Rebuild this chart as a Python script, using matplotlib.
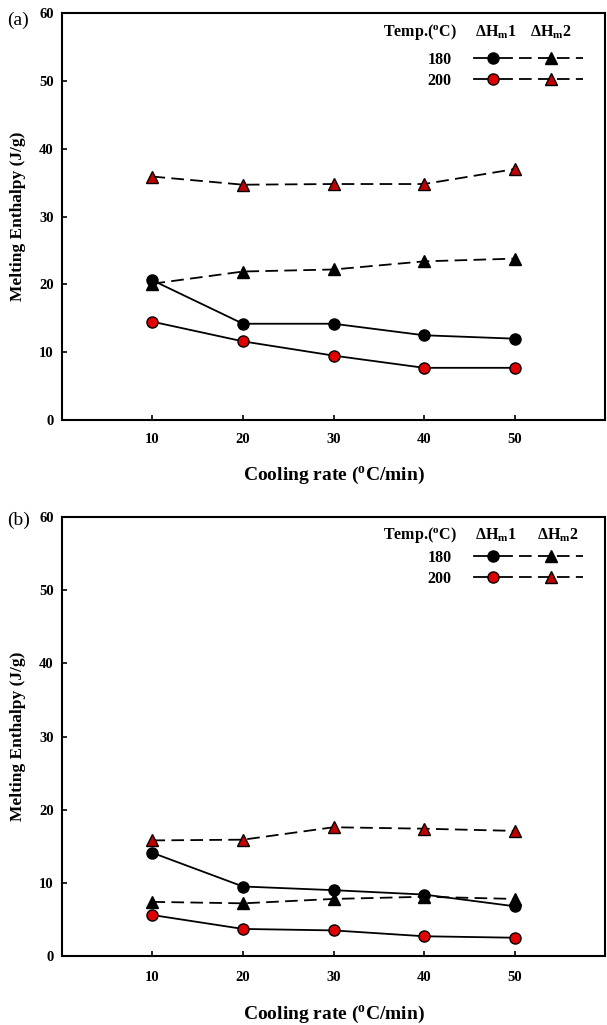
import numpy as np
import matplotlib.pyplot as plt

plt.rcParams['font.family'] = 'Liberation Serif'
plt.rcParams['font.weight'] = 'bold'
plt.rcParams['axes.labelweight'] = 'bold'
plt.rcParams['mathtext.fontset'] = 'custom'
plt.rcParams['mathtext.rm'] = 'Liberation Serif:bold'
plt.rcParams['mathtext.default'] = 'rm'

rate = [10, 20, 30, 40, 50]

# panel (a)
a_h1_180 = [20.6, 14.2, 14.2, 12.5, 12.0]
a_h1_200 = [14.5, 11.6, 9.5, 7.7, 7.7]
a_h2_180 = [20.1, 21.9, 22.2, 23.4, 23.8]
a_h2_200 = [35.9, 34.7, 34.8, 34.8, 37.0]

# panel (b)
b_h1_180 = [14.1, 9.5, 9.0, 8.4, 6.8]
b_h1_200 = [5.6, 3.7, 3.5, 2.7, 2.5]
b_h2_180 = [7.4, 7.2, 7.8, 8.1, 7.8]
b_h2_200 = [15.8, 15.9, 17.6, 17.4, 17.1]

temps = ['180', '200']

red = '#e00000'
dred = '#c00000'

fig = plt.figure(figsize=(6.07, 10.25), dpi=100)
ax1 = fig.add_axes([0.102, 0.5902, 0.895, 0.397])
ax2 = fig.add_axes([0.102, 0.0673, 0.895, 0.4283])


def panel(ax, h1_180, h1_200, h2_180, h2_200, tag, tag_y, head_y, leg_y, h2_x, xpad):
    dash = (7, 3.5)
    l1, = ax.plot(rate, h1_180, '-', color='black', lw=1.3, marker='o', ms=8,
                  mfc='black', mec='black', zorder=3)
    l2, = ax.plot(rate, h1_200, '-', color='black', lw=1.3, marker='o', ms=8,
                  mfc=red, mec='black', zorder=3)
    l3, = ax.plot(rate, h2_180, '--', color='black', lw=1.3, dashes=dash, marker='^',
                  ms=8, mfc='black', mec='black', zorder=3)
    l4, = ax.plot(rate, h2_200, '--', color='black', lw=1.3, dashes=dash, marker='^',
                  ms=8, mfc=dred, mec='black', zorder=3)
    ax.set_xlim(0, 60)
    ax.set_ylim(0, 60)
    ax.set_xticks(rate)
    ax.set_yticks(np.arange(0, 61, 10))
    ax.tick_params(axis='both', direction='in', length=3.5, width=1.2, labelsize=10.5)
    ax.tick_params(axis='x', pad=xpad)
    ax.tick_params(axis='y', pad=6)
    for s in ax.spines.values():
        s.set_linewidth(1.5)
    ax.set_xlabel('Cooling rate ($^{o}$C/min)', fontsize=14, labelpad=14)
    ax.set_ylabel('Melting Enthalpy (J/g)', fontsize=12.5, labelpad=9)
    ax.text(-0.101, tag_y, tag, transform=ax.transAxes, fontsize=14,
            fontweight='normal', va='center', ha='left')

    # header of the key table
    ax.text(0.591, head_y, 'Temp.($^{o}$C)', transform=ax.transAxes,
            fontsize=11.5, ha='left', va='center')
    ax.text(0.799, head_y, '$\\Delta$H$_{m}$1', transform=ax.transAxes,
            fontsize=11.5, ha='center', va='center')
    ax.text(h2_x, head_y, '$\\Delta$H$_{m}$2', transform=ax.transAxes,
            fontsize=11.5, ha='center', va='center')

    legA = ax.legend([l1, l2], temps, markerfirst=False, frameon=False,
                     loc='upper right', bbox_to_anchor=(0.829, leg_y),
                     fontsize=11.5, handlelength=2.4, handletextpad=1.4,
                     labelspacing=0.3, borderpad=0, borderaxespad=0)
    ax.add_artist(legA)
    ax.legend([l3, l4], ['', ''], frameon=False,
              loc='upper right', bbox_to_anchor=(0.959, leg_y),
              fontsize=11.5, handlelength=4.0, handletextpad=0,
              labelspacing=0.3, borderpad=0, borderaxespad=0)


panel(ax1, a_h1_180, a_h1_200, a_h2_180, a_h2_200, '(a)', 0.983, 0.953, 0.905, 0.900, 9)
panel(ax2, b_h1_180, b_h1_200, b_h2_180, b_h2_200, '(b)', 0.993, 0.959, 0.925, 0.913, 11)

fig.savefig('out.png', dpi=100)
